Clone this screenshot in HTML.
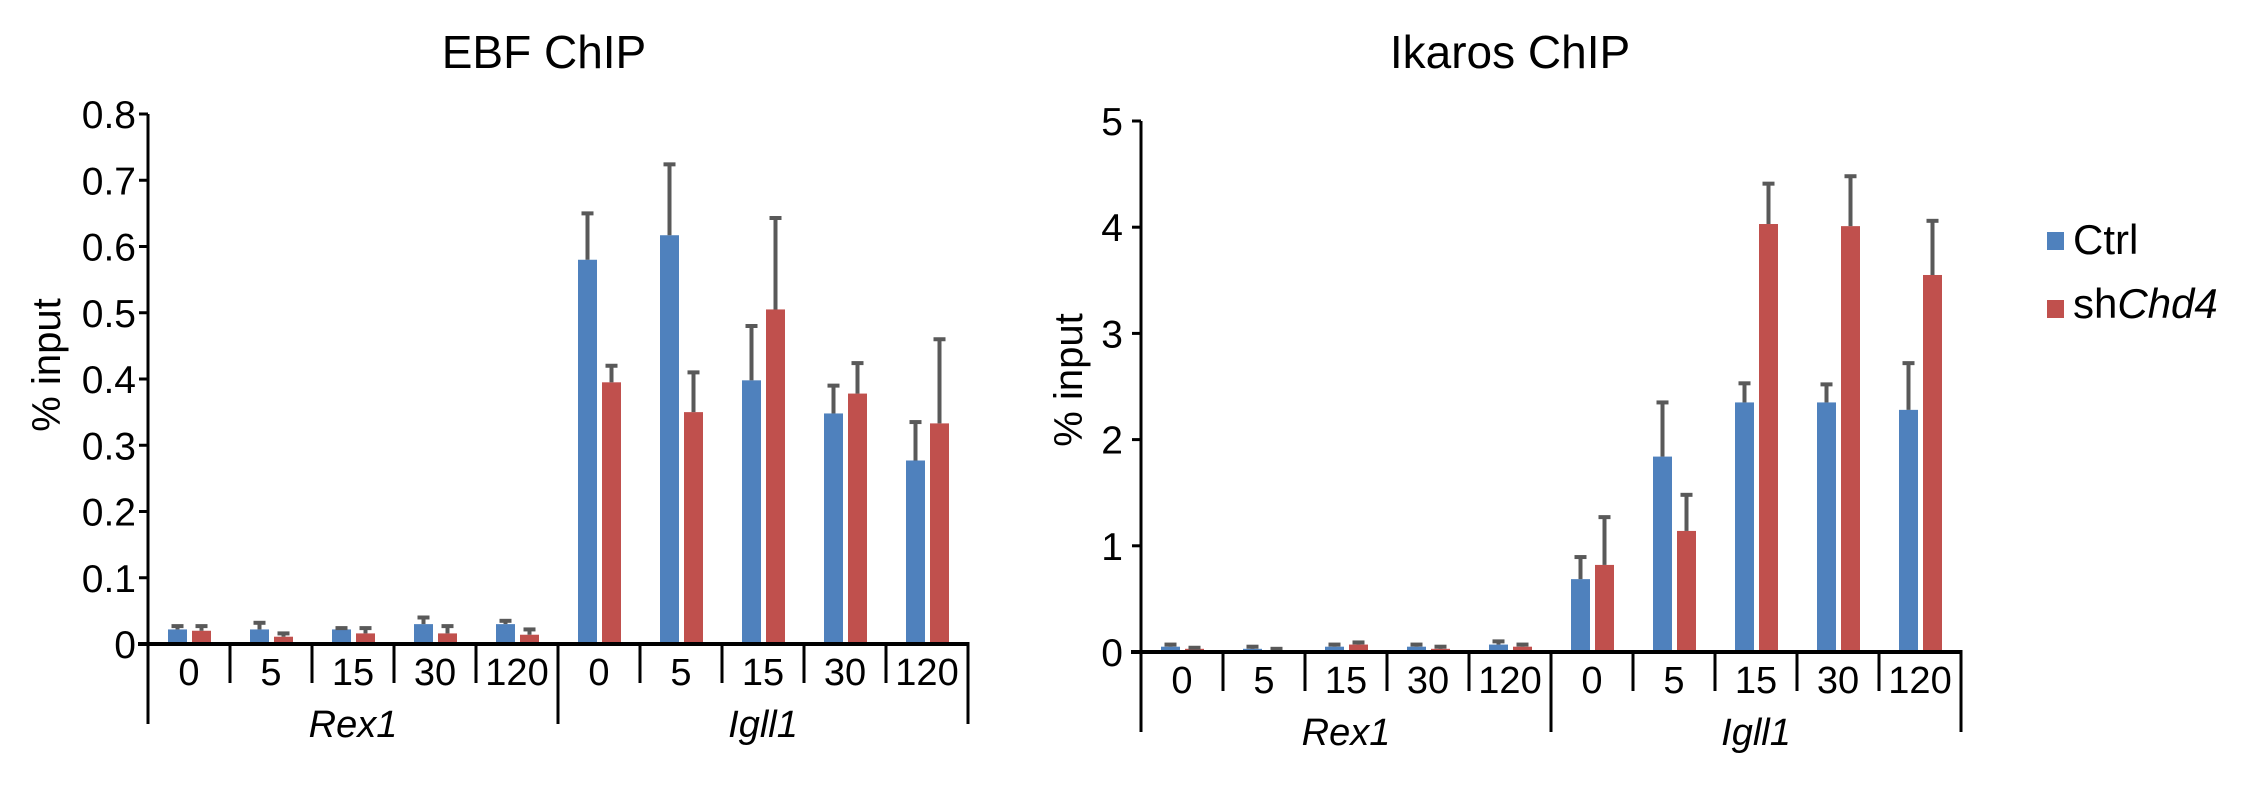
<!DOCTYPE html>
<html><head><meta charset="utf-8"><style>
html,body{margin:0;padding:0;background:#fff;}
svg{display:block;font-family:"Liberation Sans",Arial,sans-serif;}
</style></head><body>
<svg id="chart" width="2262" height="796" viewBox="0 0 2262 796" xmlns="http://www.w3.org/2000/svg">
<text x="544" y="68" font-size="46" text-anchor="middle">EBF ChIP</text>
<text x="1510" y="68" font-size="46" text-anchor="middle">Ikaros ChIP</text>
<g>
<rect x="2047" y="232" width="17" height="18" fill="#4f81bd"/>
<text x="2073" y="254" font-size="42">Ctrl</text>
<rect x="2047" y="300" width="17" height="18" fill="#c0504d"/>
<text x="2073" y="318" font-size="42">sh<tspan font-style="italic">Chd4</tspan></text>
</g>
</svg>
<script>
const timepoints = ["0","5","15","30","120"];
const groups = ["Rex1","Igll1"];
const ebfCtrl = [0.022,0.022,0.022,0.030,0.030,0.580,0.617,0.398,0.348,0.277];
const ebfCtrlErr = [0.027,0.032,0.024,0.040,0.035,0.650,0.724,0.480,0.390,0.335];
const ebfSh = [0.020,0.011,0.016,0.016,0.014,0.395,0.350,0.505,0.378,0.333];
const ebfShErr = [0.027,0.016,0.024,0.027,0.022,0.420,0.410,0.643,0.424,0.460];
const ebfTicks = ["0","0.1","0.2","0.3","0.4","0.5","0.6","0.7","0.8"];
const ikCtrl = [0.05,0.03,0.05,0.05,0.07,0.686,1.84,2.35,2.35,2.28];
const ikCtrlErr = [0.07,0.05,0.07,0.07,0.10,0.894,2.35,2.53,2.52,2.72];
const ikSh = [0.03,0.01,0.07,0.03,0.05,0.82,1.14,4.03,4.01,3.55];
const ikShErr = [0.04,0.03,0.09,0.05,0.07,1.27,1.48,4.41,4.48,4.06];
const ikTicks = ["0","1","2","3","4","5"];

const NS="http://www.w3.org/2000/svg";
const svg=document.getElementById('chart');
function mk(tag,attrs,parent){const e=document.createElementNS(NS,tag);for(const k in attrs)e.setAttribute(k,attrs[k]);(parent||svg).appendChild(e);return e;}

function drawChart(cfg){
  const g=mk('g',{});
  
  
  const x0=cfg.x0, y0=cfg.y0, cw=82, n=10;
  const yMax=parseFloat(cfg.ticks[cfg.ticks.length-1]);
  const yScale=v=>y0-(v/yMax)*(y0-cfg.yTop);
  const xCenter=i=>x0+cw*i+cw/2;
  for(let i=0;i<n;i++){
    const c=xCenter(i);
    [[cfg.ctrl,cfg.ctrlErr,'#4f81bd',-21,'ctrl'],[cfg.sh,cfg.shErr,'#c0504d',3,'shchd4']].forEach(s=>{
      const v=s[0][i], ev=s[1][i];
      const top=yScale(v);
      const b=mk('rect',{x:c+s[3],y:top,width:19,height:y0-top,fill:s[2]},g);
      
      
      const ex=c+s[3]+9.5, et=yScale(ev);
      const el=mk('line',{x1:ex,x2:ex,y1:top,y2:et,stroke:'#595959','stroke-width':4},g);
      
      
      const ec=mk('line',{x1:ex-6,x2:ex+6,y1:et,y2:et,stroke:'#595959','stroke-width':4},g);
      
      
    });
  }
  const ya=mk('line',{x1:x0,x2:x0,y1:cfg.yTop,y2:y0,stroke:'#000','stroke-width':3},g);
  
  
  cfg.ticks.forEach(t=>{
    const y=yScale(parseFloat(t));
    const tl=mk('line',{x1:x0-9,x2:x0,y1:y,y2:y,stroke:'#000','stroke-width':3},g);
    
    
    const tx=mk('text',{x:x0-cfg.labelGap,y:y+14,'font-size':39,'text-anchor':'end'},g);
    tx.textContent=t;
    
    
  });
  const yt=mk('text',{x:0,y:0,'font-size':40,'text-anchor':'middle',transform:`translate(${cfg.titleX},${cfg.titleY}) rotate(-90)`},g);
  yt.textContent='% input';
  
  
  const xa=mk('line',{x1:x0-10,x2:x0+cw*n+1.5,y1:y0,y2:y0,stroke:'#000','stroke-width':4},g);
  
  
  for(let i=0;i<=n;i++){
    const x=x0+cw*i;
    const isGroup=(i%5===0);
    const s=mk('line',{x1:x,x2:x,y1:y0,y2:y0+(isGroup?80:39),stroke:'#000','stroke-width':3},g);
    
    
  }
  for(let i=0;i<n;i++){
    const t=mk('text',{x:xCenter(i),y:y0+41,'font-size':38,'text-anchor':'middle'},g);
    t.textContent=timepoints[i%5];
    
    
  }
  groups.forEach((gr,k)=>{
    const t=mk('text',{x:x0+cw*(5*k+2.5),y:y0+93,'font-size':38,'font-style':'italic','text-anchor':'middle'},g);
    t.textContent=gr;
    
    
  });
}
drawChart({name:'ebf-chart',x0:148,y0:644,yTop:114,ticks:ebfTicks,ctrl:ebfCtrl,ctrlErr:ebfCtrlErr,sh:ebfSh,shErr:ebfShErr,labelGap:12,titleX:60,titleY:365});
drawChart({name:'ikaros-chart',x0:1141,y0:652,yTop:121,ticks:ikTicks,ctrl:ikCtrl,ctrlErr:ikCtrlErr,sh:ikSh,shErr:ikShErr,labelGap:18,titleX:1082,titleY:380});
</script>
</body></html>
